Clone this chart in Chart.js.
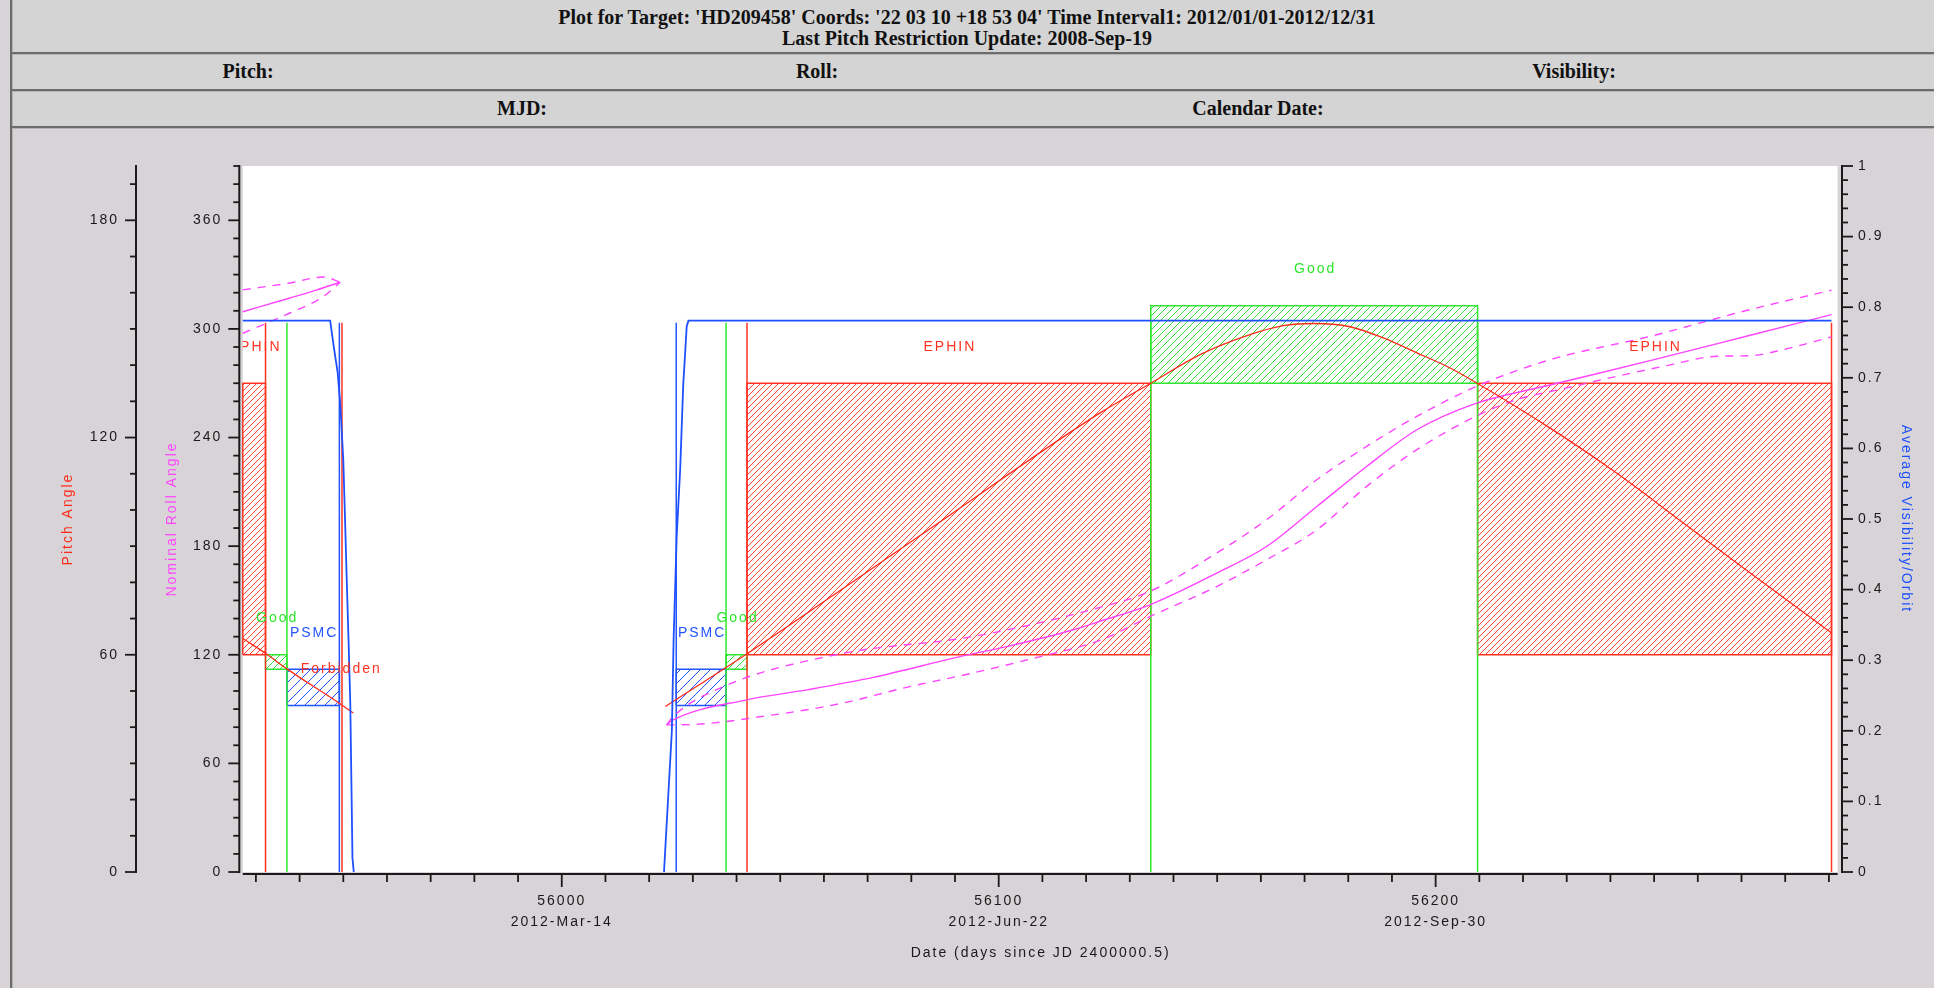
<!DOCTYPE html>
<html>
<head>
<meta charset="utf-8">
<title>HD209458 visibility</title>
<script src="https://cdn.jsdelivr.net/npm/chart.js@4.4.0/dist/chart.umd.min.js"></script>
<style>
  html, body { margin: 0; padding: 0; background: #d7d3d7; width: 1934px; height: 988px; overflow: hidden; }
  #cabecera { position: absolute; left: 12px; top: 0; width: 1922px; height: 128px; background: #d4d4d4; }
  .raya { position: absolute; left: 12px; width: 1922px; height: 2px; background: #6c6c6c; border-bottom: 1px solid #b4b4b4; }
  .txt { position: absolute; font-family: "Liberation Serif", serif; font-weight: bold; font-size: 20px; color: #111;
         white-space: nowrap; transform: translate(-50%, -50%); }
  #borde { position: absolute; left: 10px; top: 0; width: 2px; height: 988px; background: #6c6c6c; border-right: 1px solid #b4b4b4; }
  #grafico { position: absolute; left: 0; top: 130px; }
</style>
</head>
<body>
<div id="cabecera"></div>
<div id="borde"></div>
<div class="raya" style="top:52px"></div>
<div class="raya" style="top:89px"></div>
<div class="raya" style="top:126px"></div>
<div class="txt" style="left:967px; top:17px">Plot for Target: 'HD209458' Coords: '22 03 10 +18 53 04' Time Interval1: 2012/01/01-2012/12/31</div>
<div class="txt" style="left:967px; top:38px">Last Pitch Restriction Update: 2008-Sep-19</div>
<div class="txt" style="left:248px; top:71px">Pitch:</div>
<div class="txt" style="left:817px; top:71px">Roll:</div>
<div class="txt" style="left:1574px; top:71px">Visibility:</div>
<div class="txt" style="left:522px; top:108px">MJD:</div>
<div class="txt" style="left:1258px; top:108px">Calendar Date:</div>
<canvas id="grafico" width="1934" height="858"></canvas>
<script>
// --- datos ---
const intervalo = [55927, 56292];
const xTicks = [56000, 56100, 56200];
const xFechas = ["2012-Mar-14", "2012-Jun-22", "2012-Sep-30"];
const pitchTicks = [0, 60, 120, 180];
const rollTicks = [0, 60, 120, 180, 240, 300, 360];
const visTicks = [0, 0.1, 0.2, 0.3, 0.4, 0.5, 0.6, 0.7, 0.8, 0.9, 1];

// visibilidad media por orbita (null = hueco)
const visMjd = [55927, 55947.0, 55947.8, 55948.7, 55949.3, 55950.0, 55950.4, 55950.8, 55951.2, 55951.6, 55952.1, 55952.4,
                55990, 56023.4, 56025.2, 56025.6, 56026.3, 56027.1, 56027.8, 56028.6, 56029.0, 56290.6];
const visVal = [0.781, 0.781, 0.745, 0.708, 0.664, 0.584, 0.499, 0.411, 0.329, 0.239, 0.02, 0,
                null, 0, 0.2, 0.33, 0.475, 0.57, 0.69, 0.773, 0.781, 0.781];

// angulo de pitch
const pitchMjd = [55927.0, 55932.2, 55937.1, 55949.1, 55952.3, 55990,
                  56023.7, 56042.4, 56082.7, 56123.2, 56134.8, 56146.1, 56157.5, 56165.1, 56172.0, 56180.4,
                  56188.0, 56195.7, 56203.3, 56209.5, 56226.2, 56241.4, 56256.7, 56272.0, 56290.6];
const pitchVal = [64.5, 60.4, 56.1, 46.6, 43.9, null,
                  45.7, 60.3, 93.5, 126.8, 135.0, 142.9, 148.4, 150.9, 151.5, 150.6,
                  147.5, 143.4, 139.2, 135.0, 122.6, 110.2, 96.4, 82.6, 66.0];

// roll nominal y tolerancias
const rollMjd = [55927.0, 55937.8, 55944.0, 55949.3, 55990,
                 56024.0, 56025.5, 56042.3, 56056.1, 56071.3, 56091.1, 56101.8, 56117.1, 56123.2, 56134.6,
                 56149.9, 56161.3, 56172.8, 56184.2, 56195.7, 56209.4, 56226.2, 56249.1, 56272.0, 56290.6];
const rollVal = [309.5, 317.1, 321.6, 325.8, null,
                 81.3, 84.0, 95.1, 100.6, 107.5, 119.0, 124.5, 133.8, 138.5, 147.6,
                 165.1, 179.8, 201.9, 224.0, 244.3, 259.0, 269.0, 282.5, 296.5, 307.9];
const rollAltoMjd = [55927.0, 55937.8, 55945.5, 55949.3, 55990,
                     56024.0, 56025.5, 56037.0, 56063.7, 56094.2, 56123.2, 56134.6, 56149.9, 56161.3, 56172.8,
                     56184.2, 56195.7, 56209.4, 56226.2, 56249.1, 56272.0, 56290.6];
const rollAltoVal = [321.6, 325.4, 328.7, 325.8, null,
                     81.3, 85.9, 102.4, 120.5, 130.1, 146.2, 155.0, 176.2, 194.6, 216.7,
                     235.1, 251.7, 268.3, 283.0, 295.9, 310.7, 321.4];
const rollBajoMjd = [55927.0, 55937.8, 55945.5, 55949.3, 55990,
                     56024.0, 56027.1, 56048.4, 56063.7, 56078.9, 56094.2, 56109.5, 56123.2, 56134.6, 56149.9,
                     56161.3, 56172.8, 56184.2, 56195.7, 56209.4, 56218.5, 56230.0, 56241.4, 56252.9, 56264.3,
                     56272.0, 56279.6, 56290.6];
const rollBajoVal = [297.6, 308.8, 318.0, 325.8, null,
                     81.3, 81.3, 86.8, 93.0, 102.0, 110.0, 119.0, 128.0, 141.1, 157.7,
                     172.5, 189.0, 213.0, 233.3, 252.0, 260.9, 267.4, 273.8, 279.7, 284.9,
                     285.2, 288.6, 295.6];

// zonas de pitch
const cajaIni = [55927.0, 55932.2, 55937.1, 56026.2, 56037.6, 56042.4, 56134.8, 56209.6];
const cajaFin = [55932.2, 55937.1, 55949.1, 56037.6, 56042.4, 56134.8, 56209.6, 56290.6];
const cajaMin = [60, 56, 46, 46, 56, 60, 135, 60];
const cajaMax = [135, 60, 56, 56, 60, 135, 156.4, 135];
const cajaTipo = ["EPHIN", "Good", "PSMC", "PSMC", "Good", "EPHIN", "Good", "EPHIN"];

// cambios de zona
const limiteMjd = [55932.2, 55937.1, 55949.1, 55949.7, 56026.2, 56037.6, 56042.4, 56134.8, 56209.6, 56290.6];
const limiteTipo = ["EPHIN", "Good", "PSMC", "EPHIN", "PSMC", "Good", "EPHIN", "Good", "Good", "EPHIN"];
const limiteAlto = 0.778;

const etiquetaExtra = ["Forbidden"];
const etiquetaExtraMjd = [55949.3];
const etiquetaExtraPitch = [56];

// --- estilos ---
const colores = { EPHIN: "#ff3322", Good: "#2fe52f", PSMC: "#2255ff" };
const ROJO = "#ff2a1a", MAGENTA = "#ff44ff", AZUL = "#1e50ff", NEGRO = "#1a1a1a";
const fuente = "Liberation Sans";

const canvas = document.getElementById("grafico");
const ctxG = canvas.getContext("2d");

function rayado(color, paso) {
    const c = document.createElement("canvas");
    c.width = paso; c.height = paso;
    const g = c.getContext("2d");
    g.strokeStyle = color;
    g.lineWidth = 1;
    g.beginPath();
    g.moveTo(0, paso); g.lineTo(paso, 0);
    g.moveTo(-paso / 2, paso / 2); g.lineTo(paso / 2, -paso / 2);
    g.moveTo(paso / 2, paso * 1.5); g.lineTo(paso * 1.5, paso / 2);
    g.stroke();
    return ctxG.createPattern(c, "repeat");
}
const patrones = { EPHIN: rayado("#ff4433", 6), Good: rayado("#33dd33", 7), PSMC: rayado("#2255ff", 10) };

function puntos(xs, ys) {
    return xs.map((x, i) => ({ x: x, y: ys[i] }));
}

const datasets = [];
datasets.push({ data: puntos(visMjd, visVal), yAxisID: "vis", borderColor: AZUL, borderWidth: 1.8 });
datasets.push({ data: puntos(pitchMjd, pitchVal), yAxisID: "pitch", borderColor: ROJO, borderWidth: 1.3, cubicInterpolationMode: "monotone" });
datasets.push({ data: puntos(rollMjd, rollVal), yAxisID: "roll", borderColor: MAGENTA, borderWidth: 1.4, cubicInterpolationMode: "monotone" });
datasets.push({ data: puntos(rollAltoMjd, rollAltoVal), yAxisID: "roll", borderColor: MAGENTA, borderWidth: 1.4, borderDash: [8, 7], cubicInterpolationMode: "monotone" });
datasets.push({ data: puntos(rollBajoMjd, rollBajoVal), yAxisID: "roll", borderColor: MAGENTA, borderWidth: 1.4, borderDash: [8, 7], cubicInterpolationMode: "monotone" });

limiteMjd.forEach((m, i) => {
    datasets.push({
        data: [{ x: m, y: 0 }, { x: m, y: limiteAlto }],
        yAxisID: "vis", borderColor: colores[limiteTipo[i]], borderWidth: 1.5
    });
});

cajaIni.forEach((x0, i) => {
    const x1 = cajaFin[i], y0 = cajaMin[i], y1 = cajaMax[i];
    datasets.push({
        data: [{ x: x0, y: y0 }, { x: x0, y: y1 }, { x: x1, y: y1 }, { x: x1, y: y0 }, { x: x0, y: y0 }],
        yAxisID: "pitch", borderColor: colores[cajaTipo[i]], borderWidth: 1.5,
        backgroundColor: patrones[cajaTipo[i]], fill: "shape"
    });
});

datasets.forEach(d => {
    d.showLine = true;
    d.pointRadius = 0;
    d.xAxisID = "x";
    if (!d.cubicInterpolationMode) d.tension = 0;
    else d.tension = 0.4;
});

// fondo blanco y espaciado de letras
const fondo = {
    id: "fondo",
    beforeDraw(chart) {
        const { ctx, chartArea, scales } = chart;
        const x0 = scales.x.getPixelForValue(intervalo[0]);
        const x1 = scales.x.getPixelForValue(intervalo[1]);
        ctx.save();
        ctx.fillStyle = "#ffffff";
        ctx.fillRect(x0, chartArea.top, x1 - x0, chartArea.bottom - chartArea.top);
        ctx.restore();
        ctx.letterSpacing = "2px";
    }
};

function marcasY(ctx, escala, paso, cadaMayor, xLinea, dir) {
    const n = Math.floor(escala.max / paso + 1e-6);
    for (let i = 0; i <= n; i++) {
        const y = escala.getPixelForValue(i * paso);
        const largo = i % cadaMayor === 0 ? 11 : 6;
        ctx.beginPath();
        ctx.moveTo(xLinea, y);
        ctx.lineTo(xLinea + dir * largo, y);
        ctx.stroke();
    }
}

// ejes y marcas
const ejes = {
    id: "ejes",
    afterDraw(chart) {
        const { ctx, chartArea, scales } = chart;
        ctx.save();
        ctx.strokeStyle = NEGRO;
        ctx.lineWidth = 2;
        const xp = scales.pitch.right, xr = scales.roll.right, xv = scales.vis.left;
        [xp, xr, xv].forEach(x => {
            ctx.beginPath();
            ctx.moveTo(x, chartArea.top - 1);
            ctx.lineTo(x, chartArea.bottom + 1);
            ctx.stroke();
        });
        ctx.lineWidth = 1.8;
        marcasY(ctx, scales.pitch, 10, 6, xp, -1);
        marcasY(ctx, scales.roll, 10, 6, xr, -1);
        marcasY(ctx, scales.vis, 0.02, 5, xv, 1);

        const yb = chartArea.bottom + 2;
        const x0 = scales.x.getPixelForValue(intervalo[0]);
        const x1 = scales.x.getPixelForValue(intervalo[1]);
        ctx.lineWidth = 2;
        ctx.beginPath();
        ctx.moveTo(x0, yb);
        ctx.lineTo(x1, yb);
        ctx.stroke();
        ctx.lineWidth = 1.8;
        for (let d = 55930; d <= 56290; d += 10) {
            const x = scales.x.getPixelForValue(d);
            const largo = d % 100 === 0 ? 13 : 8;
            ctx.beginPath();
            ctx.moveTo(x, yb);
            ctx.lineTo(x, yb + largo);
            ctx.stroke();
        }
        ctx.restore();
    }
};

// rotulos de las zonas
const rotulos = {
    id: "rotulos",
    afterDatasetsDraw(chart) {
        const { ctx, chartArea, scales } = chart;
        const x0 = scales.x.getPixelForValue(intervalo[0]);
        const x1 = scales.x.getPixelForValue(intervalo[1]);
        ctx.save();
        ctx.beginPath();
        ctx.rect(x0, chartArea.top, x1 - x0, chartArea.bottom - chartArea.top);
        ctx.clip();
        ctx.font = "14px '" + fuente + "'";
        ctx.letterSpacing = "2px";
        ctx.textAlign = "center";
        ctx.textBaseline = "middle";
        cajaIni.forEach((a, i) => {
            const x = scales.x.getPixelForValue((a + cajaFin[i]) / 2);
            const y = scales.pitch.getPixelForValue(cajaMax[i] + 10);
            ctx.fillStyle = colores[cajaTipo[i]];
            ctx.fillText(cajaTipo[i], x + 1, y);
        });
        etiquetaExtra.forEach((t, i) => {
            ctx.fillStyle = colores.EPHIN;
            ctx.fillText(t, scales.x.getPixelForValue(etiquetaExtraMjd[i]) + 1, scales.pitch.getPixelForValue(etiquetaExtraPitch[i]));
        });
        ctx.restore();
    }
};

const fuenteTicks = { family: fuente, size: 14, lineHeight: 1.5 };
const fuenteTitulo = { family: fuente, size: 14, lineHeight: 1.2 };

new Chart(ctxG, {
    type: "scatter",
    data: { datasets: datasets },
    options: {
        responsive: false,
        animation: false,
        devicePixelRatio: 1,
        events: [],
        layout: { padding: { top: 36, left: 0, right: 0, bottom: 0 } },
        plugins: { legend: { display: false }, tooltip: { enabled: false } },
        scales: {
            x: {
                type: "linear", position: "bottom", min: 55926.2, max: 56293.0,
                grid: { display: false, drawTicks: false }, border: { display: false },
                afterBuildTicks: s => { s.ticks = xTicks.map(v => ({ value: v })); },
                ticks: {
                    autoSkip: false, maxRotation: 0, padding: 19, color: NEGRO, font: fuenteTicks,
                    callback: v => {
                        const i = xTicks.indexOf(v);
                        return i < 0 ? "" : [String(v), xFechas[i]];
                    }
                },
                title: { display: true, text: "Date (days since JD 2400000.5)", color: NEGRO, font: fuenteTitulo, padding: { top: 0, bottom: 26.6 } },
                afterFit: s => { s.height = 116; }
            },
            pitch: {
                type: "linear", position: "left", weight: 1, min: 0, max: 195,
                grid: { display: false, drawTicks: false }, border: { display: false },
                afterBuildTicks: s => { s.ticks = pitchTicks.map(v => ({ value: v })); },
                ticks: { autoSkip: false, padding: 17, color: NEGRO, font: fuenteTicks },
                title: { display: true, text: "Pitch Angle", color: ROJO, font: fuenteTitulo, padding: { top: 59.6, bottom: 0 } },
                afterFit: s => { s.width = 136; }
            },
            roll: {
                type: "linear", position: "left", weight: 0, min: 0, max: 390,
                grid: { display: false, drawTicks: false }, border: { display: false },
                afterBuildTicks: s => { s.ticks = rollTicks.map(v => ({ value: v })); },
                ticks: { autoSkip: false, padding: 17, color: NEGRO, font: fuenteTicks },
                title: { display: true, text: "Nominal Roll Angle", color: MAGENTA, font: fuenteTitulo, padding: { top: 27.6, bottom: 0 } },
                afterFit: s => { s.width = 103.3; }
            },
            vis: {
                type: "linear", position: "right", min: 0, max: 1,
                grid: { display: false, drawTicks: false }, border: { display: false },
                afterBuildTicks: s => { s.ticks = visTicks.map(v => ({ value: v })); },
                ticks: { autoSkip: false, padding: 16, color: NEGRO, font: fuenteTicks, callback: v => String(+v.toFixed(1)) },
                title: { display: true, text: "Average Visibility/Orbit", color: AZUL, font: fuenteTitulo, padding: { top: 19.6, bottom: 0 } },
                afterFit: s => { s.width = 92; }
            }
        }
    },
    plugins: [fondo, ejes, rotulos]
});
</script>
</body>
</html>
